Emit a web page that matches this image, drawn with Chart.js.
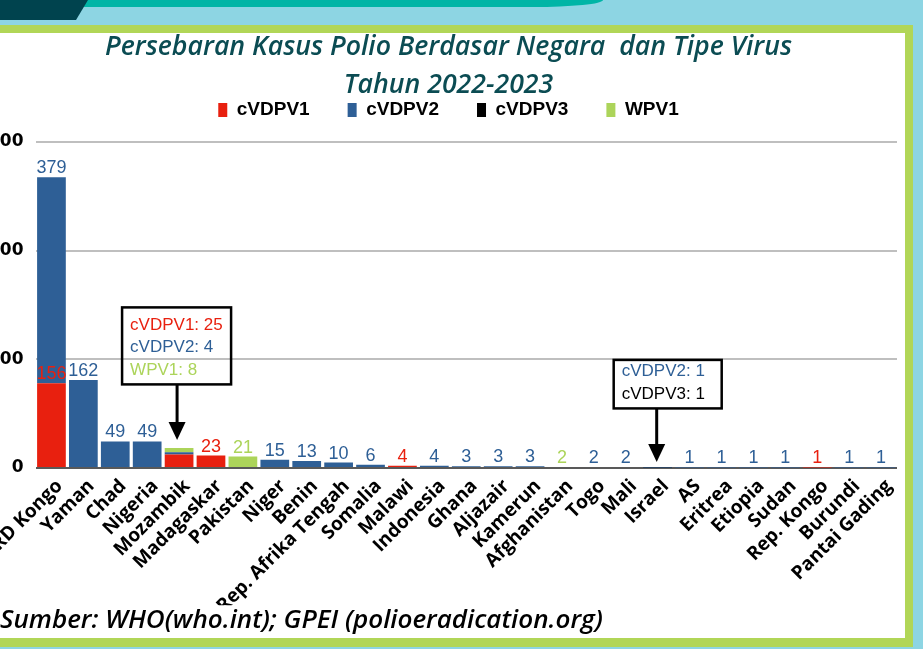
<!DOCTYPE html>
<html>
<head>
<meta charset="utf-8">
<title>Persebaran Kasus Polio</title>
<script src="https://cdn.jsdelivr.net/npm/chart.js@4.4.1/dist/chart.umd.min.js"></script>
<style>
  html, body { margin: 0; padding: 0; }
  body { width: 923px; height: 649px; overflow: hidden; position: relative; background: #8dd5e3; }
  .band-teal { position: absolute; left: 40px; top: 0; width: 563px; height: 7px; background: #00b5a6; border-bottom-right-radius: 70px 7px; }
  .band-dark { position: absolute; left: 0; top: 0; width: 88px; height: 20px; background: #00434e; clip-path: polygon(0 0, 100% 0, 76px 100%, 0 100%); }
  .frame { position: absolute; left: -20px; top: 25px; width: 933px; height: 622px; background: #b1d657; }
  .panel { position: absolute; left: -20px; top: 33px; width: 925px; height: 605px; background: #fff; }
  #chart { position: absolute; left: 0; top: 25px; }
</style>
</head>
<body>
<div class="band-teal"></div>
<div class="band-dark"></div>
<div class="frame"></div>
<div class="panel"></div>
<canvas id="chart" width="905" height="613"></canvas>
<script>
// Kasus polio per negara, 2022-2023
const countries = ['RD Kongo', 'Yaman', 'Chad', 'Nigeria', 'Mozambik', 'Madagaskar', 'Pakistan', 'Niger', 'Benin',
    'Rep. Afrika Tengah', 'Somalia', 'Malawi', 'Indonesia', 'Ghana', 'Aljazair', 'Kamerun', 'Afghanistan', 'Togo',
    'Mali', 'Israel', 'AS', 'Eritrea', 'Etiopia', 'Sudan', 'Rep. Kongo', 'Burundi', 'Pantai Gading'];
const cvdpv1 = [156, 0, 0, 0, 25, 23, 0, 0, 0, 0, 0, 4, 0, 0, 0, 0, 0, 0, 0, 0, 0, 0, 0, 0, 1, 0, 0];
const cvdpv2 = [379, 162, 49, 49, 4, 0, 0, 15, 13, 10, 6, 0, 4, 3, 3, 3, 0, 2, 2, 1, 1, 1, 1, 1, 0, 1, 1];
const cvdpv3 = [0, 0, 0, 0, 0, 0, 0, 0, 0, 0, 0, 0, 0, 0, 0, 0, 0, 0, 0, 1, 0, 0, 0, 0, 0, 0, 0];
const wpv1 = [0, 0, 0, 0, 8, 0, 21, 0, 0, 0, 0, 0, 0, 0, 0, 0, 2, 0, 0, 0, 0, 0, 0, 0, 0, 0, 0];
const yTicks = [0, 200, 400, 600];
// negara yang nilainya ditampilkan dalam kotak keterangan
const calloutCountries = ['Mozambik', 'Israel'];

const colors = {
    red: '#e8200f',
    blue: '#2e5f96',
    black: '#000000',
    green: '#acd45a'
};

// angka di atas batang
const barLabels = {
    id: 'barLabels',
    afterDatasetsDraw(chart) {
        const ctx = chart.ctx;
        ctx.save();
        ctx.font = '18px "Liberation Sans", Arial, sans-serif';
        ctx.textAlign = 'center';
        ctx.textBaseline = 'alphabetic';
        chart.data.datasets.forEach((ds, di) => {
            chart.getDatasetMeta(di).data.forEach((bar, i) => {
                const v = ds.data[i];
                if (!v || calloutCountries.includes(countries[i])) return;
                ctx.fillStyle = ds.backgroundColor;
                ctx.fillText(v, bar.x, bar.y - 4);
            });
        });
        ctx.restore();
    }
};

// kotak keterangan dengan panah
const callouts = {
    id: 'callouts',
    afterDatasetsDraw(chart, args, opts) {
        const ctx = chart.ctx;
        opts.boxes.forEach(box => {
            const i = countries.indexOf(box.country);
            let top = chart.scales.y.getPixelForValue(0), x = 0;
            const lines = [];
            chart.data.datasets.forEach((ds, di) => {
                const bar = chart.getDatasetMeta(di).data[i];
                x = bar.x;
                if (ds.data[i]) {
                    top = Math.min(top, bar.y);
                    lines.push({ text: ds.label + ': ' + ds.data[i], color: ds.backgroundColor });
                }
            });
            const bottom = top - box.gap;
            const left = x + box.dx;
            ctx.save();
            ctx.lineWidth = 2.5;
            ctx.strokeStyle = '#000';
            ctx.strokeRect(left, bottom - box.height, box.width, box.height);
            ctx.font = '17px "Liberation Sans", Arial, sans-serif';
            ctx.textAlign = 'left';
            ctx.textBaseline = 'middle';
            lines.forEach((ln, k) => {
                ctx.fillStyle = ln.color;
                ctx.fillText(ln.text, left + 8, bottom - 14.5 - (lines.length - 1 - k) * 22.5);
            });
            const ax = x + box.arrowDx;
            const tip = top - box.tip;
            ctx.beginPath();
            ctx.moveTo(ax, bottom);
            ctx.lineTo(ax, tip - 16);
            ctx.lineWidth = 3;
            ctx.stroke();
            ctx.beginPath();
            ctx.moveTo(ax - 8.5, tip - 18);
            ctx.lineTo(ax + 8.5, tip - 18);
            ctx.lineTo(ax, tip);
            ctx.closePath();
            ctx.fillStyle = '#000';
            ctx.fill();
            ctx.restore();
        });
    }
};

// beri jarak antara legenda dan area grafik
const legendGap = {
    id: 'legendGap',
    beforeInit(chart) {
        const fit = chart.legend.fit;
        chart.legend.fit = function () {
            fit.call(this);
            this.height += 12.5;
        };
    }
};

const ctx = document.getElementById('chart').getContext('2d');
new Chart(ctx, {
    type: 'bar',
    data: {
        labels: countries,
        datasets: [
            { label: 'cVDPV1', data: cvdpv1, backgroundColor: colors.red },
            { label: 'cVDPV2', data: cvdpv2, backgroundColor: colors.blue },
            { label: 'cVDPV3', data: cvdpv3, backgroundColor: colors.black },
            { label: 'WPV1', data: wpv1, backgroundColor: colors.green }
        ]
    },
    options: {
        responsive: false,
        animation: false,
        barPercentage: 0.9,
        categoryPercentage: 1,
        layout: { padding: { left: 0, right: 8, top: 0, bottom: 0 } },
        scales: {
            x: {
                stacked: true,
                grid: { display: false },
                border: { display: false },
                ticks: {
                    autoSkip: false,
                    minRotation: 45,
                    maxRotation: 45,
                    padding: -1,
                    labelOffset: 8,
                    color: '#000',
                    font: { family: '"Open Sans", sans-serif', weight: 'bold', size: 19 }
                },
                afterFit: s => {
                    s.height = 137.3;
                    s.paddingLeft = 0;
                    s.paddingRight = 0;
                }
            },
            y: {
                stacked: true,
                min: 0,
                max: 600,
                afterBuildTicks: s => { s.ticks = yTicks.map(v => ({ value: v })); },
                border: { display: false },
                grid: {
                    drawTicks: false,
                    lineWidth: 2,
                    color: c => (c.tick && c.tick.value === 0 ? '#595959' : '#bfbfbf')
                },
                ticks: {
                    padding: 12,
                    color: '#000',
                    font: { family: '"DejaVu Sans", sans-serif', weight: 'bold', size: 17 }
                },
                afterFit: s => { s.width = 35.5; }
            }
        },
        plugins: {
            title: {
                display: true,
                text: ['Persebaran Kasus Polio Berdasar Negara  dan Tipe Virus', 'Tahun 2022-2023'],
                color: '#0b4c53',
                font: { family: '"Open Sans", sans-serif', style: 'italic', weight: '600', size: 26.7, lineHeight: 37.5 / 26.7 },
                padding: { top: 4, bottom: -41.5 }
            },
            legend: {
                position: 'top',
                labels: {
                    boxWidth: 9,
                    boxHeight: 14,
                    padding: 38,
                    color: '#000',
                    font: { family: '"Liberation Sans", Arial, sans-serif', weight: 'bold', size: 19 }
                }
            },
            subtitle: {
                display: true,
                position: 'bottom',
                align: 'start',
                text: 'Sumber: WHO(who.int); GPEI (polioeradication.org)',
                color: '#000',
                font: { family: '"Open Sans", sans-serif', style: 'italic', weight: '600', size: 26, lineHeight: 1.2 },
                padding: { top: 0, bottom: 1.5 }
            },
            tooltip: { enabled: false },
            callouts: {
                boxes: [
                    { country: 'Mozambik', dx: -57, width: 109, height: 77, gap: 63.5, tip: 8, arrowDx: -2 },
                    { country: 'Israel', dx: -44, width: 108, height: 48.5, gap: 58.5, tip: 5, arrowDx: -1 }
                ]
            }
        }
    },
    plugins: [legendGap, barLabels, callouts]
});
</script>
</body>
</html>
